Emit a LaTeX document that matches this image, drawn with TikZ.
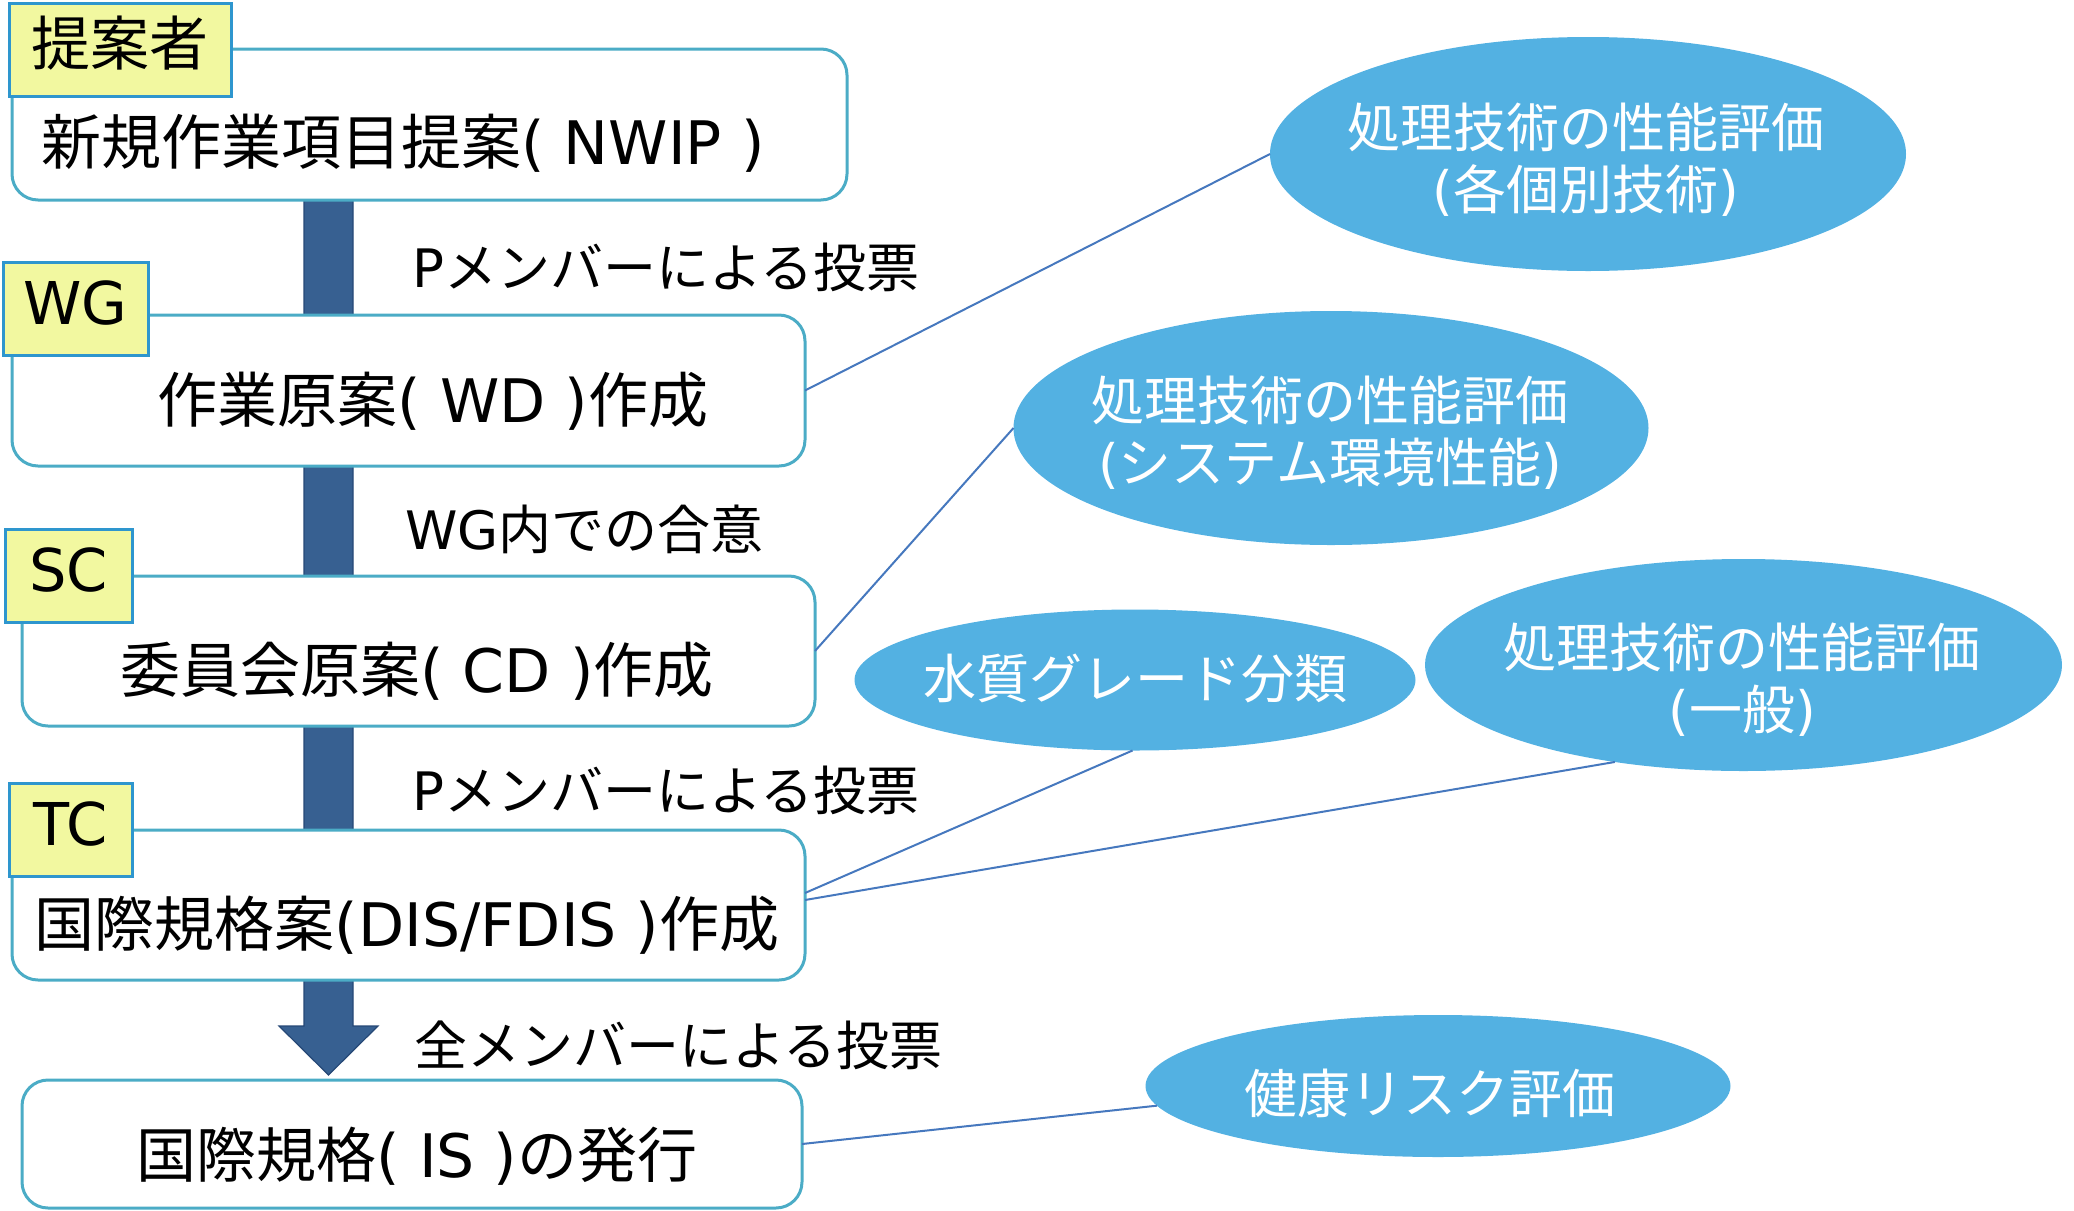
\documentclass[tikz,border=0pt]{standalone}
\usepackage{fontspec}
\setmainfont{Noto Sans CJK JP}
\newfontfamily\lat{DejaVu Sans}
\usetikzlibrary{shapes.geometric,calc}
\definecolor{boxline}{RGB}{75,172,198}
\definecolor{tagfill}{RGB}{242,248,160}
\definecolor{tagline}{RGB}{46,150,206}
\definecolor{arrowc}{RGB}{55,96,145}
\definecolor{arrowline}{RGB}{38,72,118}
\definecolor{ellc}{RGB}{83,177,226}
\definecolor{linkc}{RGB}{70,120,190}
\begin{document}
\begin{tikzpicture}[x=0.5pt,y=-0.5pt,
  stagebox/.style={draw=boxline,line width=1.5pt,fill=white,rounded corners=13pt,inner sep=0pt,outer sep=0pt},
  tagbox/.style={draw=tagline,line width=1.5pt,fill=tagfill,minimum height=46.5pt,inner sep=0pt,outer sep=0pt,
    font=\fontsize{29.5pt}{35pt}\selectfont,text height=26pt,text depth=10pt},
  stagetext/.style={inner sep=0pt,font=\fontsize{30pt}{36pt}\selectfont,text height=26.4pt,text depth=3.6pt},
  steptext/.style={inner sep=0pt,anchor=west,font=\fontsize{26.5pt}{31pt}\selectfont,text height=23.3pt,text depth=3.2pt},
  ell/.style={ellipse,fill=ellc,inner sep=0pt,outer sep=0pt},
  elltext/.style={inner sep=0pt,align=center,text=white,font=\fontsize{26.5pt}{31pt}\selectfont},
  link/.style={draw=linkc,line width=1pt}
]
\useasboundingbox (0,0) rectangle (2074,1211);

% main flow arrow
\coordinate (atop) at (328.5,200);
\coordinate (atip) at (328.5,1075);
\filldraw[fill=arrowc,draw=arrowline,line width=0.6pt]
  ($(atop)+(-24.5,0)$) -- ($(atop)+(24.5,0)$) -- ($(atip)+(24.5,-49)$) -- ($(atip)+(49.5,-49)$)
  -- (atip) -- ($(atip)+(-49.5,-49)$) -- ($(atip)+(-24.5,-49)$) -- cycle;

% stage boxes
\node[stagebox,minimum width=417.5pt,minimum height=75.5pt] (b1) at (429.5,124.5) {};
\node[stagebox,minimum width=396.5pt,minimum height=75.5pt] (b2) at (408.5,390.5) {};
\node[stagebox,minimum width=396.5pt,minimum height=75pt] (b3) at (418.5,651) {};
\node[stagebox,minimum width=396.5pt,minimum height=75pt] (b4) at (408.5,905) {};
\node[stagebox,minimum width=390pt,minimum height=64pt] (b5) at (412,1144) {};

\node[stagetext] (t1) at (403,142) {新規作業項目提案{\lat( NWIP )}};
\node[stagetext] (t2) at (433,400) {作業原案{\lat( WD )}作成};
\node[stagetext] (t3) at (417,670) {委員会原案{\lat( CD )}作成};
\node[stagetext] (t4) at (407,924) {国際規格案{\lat(DIS/FDIS )}作成};
\node[stagetext] (t5) at (417,1155) {国際規格{\lat( IS )}の発行};

% tags
\node[tagbox,minimum width=111pt] (g1) at (120,49.5) {提案者};
\node[tagbox,minimum width=72.5pt] (g2) at (75.5,308.5) {\lat WG};
\node[tagbox,minimum width=63.5pt] (g3) at (68.5,575.5) {\lat SC};
\node[tagbox,minimum width=61.5pt] (g4) at (70.5,829.5) {\lat TC};

% step labels
\node[steptext] (s1) at (412,267) {{\lat P}メンバーによる投票};
\node[steptext] (s2) at (405,529) {{\lat WG}内での合意};
\node[steptext] (s3) at (412,790) {{\lat P}メンバーによる投票};
\node[steptext] (s4) at (414,1045) {全メンバーによる投票};

% ellipses
\node[ell,minimum width=318pt,minimum height=117pt] (e1) at (1588,154) {};
\node[ell,minimum width=317.5pt,minimum height=117pt] (e2) at (1331,428) {};
\node[ell,minimum width=280.5pt,minimum height=70.5pt] (e3) at (1135,680) {};
\node[ell,minimum width=318.5pt,minimum height=106pt] (e4) at (1743.5,665) {};
\node[ell,minimum width=292.5pt,minimum height=71pt] (e5) at (1438,1086) {};

\node[elltext] (et1) at (1586,160) {処理技術の性能評価\\{\lat(}各個別技術{\lat)}};
\node[elltext] (et2) at (1330,433) {処理技術の性能評価\\{\lat(}システム環境性能{\lat)}};
\node[elltext] (et3) at (1135,678) {水質グレード分類};
\node[elltext] (et4) at (1742,680) {処理技術の性能評価\\{\lat(}一般{\lat)}};
\node[elltext] (et5) at (1430,1093) {健康リスク評価};

% connectors
\draw[link] (b2.east) -- (e1.west);
\draw[link] (b3.east) -- (e2.west);
\draw[link] ([yshift=6pt]b4.east) -- (e3.268);
\draw[link] ([yshift=2.5pt]b4.east) -- (e4.217.7);
\draw[link] (b5.east) -- (e5.184);
\end{tikzpicture}
\end{document}
